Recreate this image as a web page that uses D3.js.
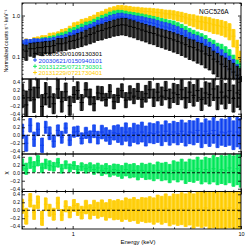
<!DOCTYPE html>
<html><head><meta charset="utf-8">
<script src="https://cdn.jsdelivr.net/npm/d3@7"></script>
<style>body{margin:0;background:#fff}svg{display:block}text{font-family:"Liberation Sans",Arial,sans-serif}</style>
</head><body><svg id="c" width="249" height="249"></svg>
<script>
// ---------------- data ----------------
const energy = [0.50,0.53,0.56,0.59,0.62,0.66,0.69,0.73,0.77,0.82,0.86,0.91,0.96,1.02,1.07,1.13,1.20,1.27,1.34,1.41,1.49,1.58,1.66,1.76,1.86,1.96,2.07,2.19,2.31,2.44,2.58,2.72,2.87,3.03,3.20,3.38,3.57,3.77,3.98,4.21,4.44,4.69,4.95,5.23,5.52,5.83,6.16,6.50,6.87,7.25,7.66,8.09,8.54,9.02,9.52,9.90];

const seriesNames = ["20020530/0109130301","20030621/0150940101","20131225/0721730301","20131229/0721730401"];
const objectName = "NGC526A";

const blackRate = [0.15,0.14,0.16,0.16,0.17,0.17,0.18,0.18, 0.19,0.21,0.21,0.22,0.24,0.25,0.27,0.29, 0.32,0.35,0.38,0.42,0.44,0.48,0.51,0.55, 0.58,0.60,0.59,0.55,0.52,0.48,0.45,0.42, 0.39,0.37,0.34,0.32,0.30,0.28,0.26,0.24, 0.22,0.20,0.18,0.17,0.15,0.14,0.12,0.11, 0.09,0.078,0.068,0.06,0.052,0.044,0.037,0.032];
const blackErr = [0.36,0.40,0.34,0.38,0.33,0.36,0.32,0.34, 0.33,0.34,0.33,0.34,0.35,0.36,0.37,0.38, 0.39,0.40,0.40,0.40,0.41,0.41,0.42,0.42, 0.43,0.43,0.44,0.44,0.44,0.45,0.45,0.45, 0.46,0.46,0.47,0.47,0.48,0.48,0.49,0.49, 0.50,0.50,0.51,0.52,0.52,0.53,0.54,0.55, 0.56,0.57,0.58,0.59,0.60,0.62,0.64,0.66];
const blueRate = [0.21,0.22,0.22,0.23,0.23,0.23,0.24,0.24, 0.25,0.27,0.28,0.30,0.33,0.37,0.40,0.44, 0.48,0.52,0.57,0.64,0.70,0.76,0.82,0.87, 0.92,0.93,0.88,0.85,0.81,0.78,0.75,0.71, 0.68,0.65,0.60,0.56,0.53,0.50,0.46,0.42, 0.38,0.34,0.30,0.27,0.25,0.23,0.20,0.17, 0.15,0.13,0.11,0.09,0.076,0.062,0.046,0.035];
const blueErr = [0.22,0.22,0.21,0.21,0.20,0.20,0.20,0.19, 0.19,0.19,0.18,0.18,0.18,0.18,0.18,0.18, 0.19,0.19,0.20,0.20,0.21,0.21,0.22,0.22, 0.23,0.23,0.24,0.24,0.24,0.25,0.25,0.25, 0.25,0.26,0.26,0.26,0.27,0.27,0.27,0.28, 0.28,0.29,0.29,0.30,0.31,0.32,0.33,0.34, 0.35,0.36,0.37,0.38,0.40,0.42,0.44,0.46];
const greenRate = [0.19,0.20,0.20,0.22,0.22,0.24,0.24,0.26, 0.27,0.30,0.32,0.34,0.40,0.43,0.48,0.52, 0.58,0.61,0.68,0.75,0.83,0.90,0.99,1.06, 1.10,1.09,1.04,0.99,0.96,0.92,0.88,0.84, 0.80,0.76,0.72,0.68,0.64,0.61,0.58,0.53, 0.48,0.43,0.38,0.34,0.31,0.28,0.25,0.21, 0.19,0.16,0.15,0.13,0.11,0.08,0.06,0.05];
const greenErr = [0.24,0.24,0.23,0.23,0.22,0.22,0.22,0.21, 0.21,0.21,0.20,0.20,0.20,0.20,0.20,0.20, 0.20,0.20,0.20,0.21,0.21,0.21,0.22,0.22, 0.22,0.22,0.23,0.23,0.23,0.24,0.24,0.24, 0.24,0.25,0.25,0.25,0.26,0.26,0.27,0.27, 0.28,0.28,0.29,0.30,0.30,0.31,0.32,0.33, 0.34,0.35,0.36,0.37,0.38,0.40,0.42,0.45];
const yellowRate = [0.20,0.22,0.21,0.24,0.25,0.27,0.27,0.31, 0.32,0.34,0.39,0.41,0.47,0.57,0.60,0.69, 0.73,0.81,0.88,1.01,1.08,1.20,1.30,1.37, 1.45,1.46,1.42,1.38,1.33,1.31,1.27,1.25, 1.24,1.20,1.18,1.15,1.10,1.09,1.05,0.99, 0.95,0.88,0.82,0.79,0.73,0.71,0.68,0.65, 0.60,0.58,0.55,0.51,0.45,0.32,0.17,0.09];
const yellowErr = [0.25,0.25,0.24,0.24,0.23,0.22,0.22,0.21, 0.20,0.20,0.19,0.19,0.18,0.18,0.17,0.17, 0.17,0.17,0.17,0.17,0.17,0.18,0.18,0.19, 0.20,0.20,0.20,0.20,0.20,0.21,0.21,0.21, 0.21,0.22,0.22,0.22,0.23,0.23,0.24,0.25, 0.26,0.28,0.30,0.32,0.34,0.35,0.36,0.37, 0.38,0.38,0.39,0.40,0.42,0.45,0.50,0.55];

const blackRes = [0.05,-0.18,0.20,-0.05,0.25,-0.22,0.10,0.02, -0.15,0.22,-0.10,0.15,-0.20,0.08,0.18,-0.12, 0.20,0.02,-0.15,0.12,0.10,-0.05,0.16,-0.10, 0.06,0.18,-0.06,0.12,0.04,0.16,-0.04,0.10, 0.20,0.00,0.14,0.04,0.18,-0.02,0.12,0.08, 0.20,0.00,0.14,0.06,0.18,-0.04,0.12,0.08, 0.22,0.00,0.14,0.04,0.18,-0.02,0.12,0.08];
const blackResErr = [0.30,0.35,0.28,0.32,0.25,0.30,0.28,0.26, 0.25,0.24,0.26,0.22,0.24,0.20,0.22,0.20, 0.18,0.20,0.18,0.17,0.18,0.16,0.17,0.18, 0.18,0.17,0.19,0.18,0.19,0.20,0.20,0.21, 0.21,0.22,0.22,0.23,0.23,0.24,0.24,0.25, 0.25,0.26,0.26,0.27,0.27,0.28,0.28,0.29, 0.29,0.30,0.30,0.32,0.32,0.34,0.36,0.38];
const blueRes = [0.10,-0.20,0.25,-0.10,0.15,-0.25,0.20,0.05, -0.15,0.12,-0.05,0.18,-0.12,0.08,0.10,-0.08, 0.06,-0.04,0.10,-0.06,0.08,0.02,-0.05,0.06, 0.04,-0.02,0.08,-0.04,0.06,0.02,0.08,-0.02, 0.06,0.04,0.08,0.00,0.10,0.02,0.08,0.04, 0.10,0.02,0.08,0.06,0.12,0.00,0.10,0.04, 0.12,0.02,0.08,0.06,0.10,0.00,0.08,0.04];
const blueResErr = [0.18,0.20,0.17,0.18,0.16,0.18,0.15,0.16, 0.15,0.14,0.15,0.13,0.14,0.13,0.13,0.14, 0.14,0.15,0.16,0.16,0.17,0.17,0.18,0.18, 0.22,0.22,0.23,0.23,0.24,0.24,0.25,0.25, 0.25,0.25,0.26,0.26,0.26,0.27,0.27,0.28, 0.28,0.29,0.29,0.30,0.30,0.31,0.31,0.32, 0.32,0.33,0.33,0.34,0.35,0.36,0.37,0.38];
const greenRes = [0.20,0.10,0.25,0.15,0.30,0.12,0.22,0.18, 0.15,0.25,0.10,0.20,0.12,0.18,0.08,0.15, 0.10,0.14,0.08,0.12,0.06,0.10,0.04,0.08, 0.06,0.02,0.08,0.04,0.06,0.00,0.06,0.02, 0.04,0.00,0.06,0.02,0.04,-0.02,0.06,0.02, 0.08,0.00,0.06,0.04,0.10,0.02,0.08,0.04, 0.10,0.04,0.08,0.06,0.12,0.04,0.10,0.06];
const greenResErr = [0.15,0.14,0.14,0.13,0.13,0.12,0.12,0.12, 0.11,0.11,0.11,0.10,0.10,0.10,0.10,0.10, 0.11,0.11,0.12,0.12,0.13,0.13,0.14,0.14, 0.15,0.16,0.16,0.17,0.17,0.18,0.18,0.19, 0.20,0.20,0.21,0.22,0.22,0.23,0.24,0.25, 0.26,0.27,0.28,0.28,0.29,0.30,0.31,0.32, 0.33,0.34,0.35,0.36,0.37,0.38,0.40,0.42];
const yellowRes = [0.10,-0.15,0.25,-0.05,0.20,-0.20,0.15,0.00, -0.10,0.18,-0.12,0.10,-0.05,0.12,0.02,-0.06, 0.08,-0.04,0.06,0.00,0.05,-0.03,0.04,0.00, 0.02,-0.02,0.04,0.00,0.03,-0.03,0.02,0.00, 0.02,-0.02,0.04,0.00,0.05,-0.02,0.03,0.01, 0.04,0.00,0.05,-0.02,0.04,0.02,0.06,-0.02, 0.04,0.00,0.05,0.02,0.06,-0.02,0.04,0.00];
const yellowResErr = [0.18,0.20,0.17,0.18,0.16,0.18,0.16,0.15, 0.15,0.15,0.14,0.14,0.14,0.15,0.15,0.16, 0.17,0.18,0.19,0.20,0.21,0.22,0.23,0.24, 0.25,0.26,0.27,0.28,0.29,0.30,0.30,0.31, 0.32,0.33,0.34,0.35,0.36,0.37,0.38,0.39, 0.40,0.41,0.42,0.43,0.44,0.45,0.46,0.47, 0.48,0.49,0.50,0.50,0.50,0.50,0.50,0.50];

const xMajorTicks = [1, 10];
const xTickLabels = ["1", "10"];
const xMinorTicks = [0.5,0.6,0.7,0.8,0.9,2,3,4,5,6,7,8,9];
const yMainMajor = [0.1, 1];
const yMainLabels = ["0.1", "1.0"];
const yMainMinor = [0.03,0.04,0.05,0.06,0.07,0.08,0.09,0.2,0.3,0.4,0.5,0.6,0.7,0.8,0.9,2];
const resTicks = [-0.4,-0.2,0,0.2,0.4];
const resTickLabels = ["\u22120.4","\u22120.2","0.0","0.2","0.4"];
const xTitle = "Energy (keV)";
const yMainTitle = "Normalized counts s\u207B\u00B9 keV\u207B\u00B9";
const yResTitle = "\u03C7";

// ---------------- layout ----------------
const L = 22, R = 241;
const mainTop = 3, mainBot = 79;
const resEdges = [79, 116.5, 154, 191.5, 229];

const series = [
  {name: seriesNames[0], dark: "#000000", light: "#3c3c3c", rate: blackRate, err: blackErr, res: blackRes, resErr: blackResErr},
  {name: seriesNames[1], dark: "#0f3ff0", light: "#2f5ef2", rate: blueRate, err: blueErr, res: blueRes, resErr: blueResErr},
  {name: seriesNames[2], dark: "#00e656", light: "#22ec70", rate: greenRate, err: greenErr, res: greenRes, resErr: greenResErr},
  {name: seriesNames[3], dark: "#ffcc00", light: "#ffd21a", rate: yellowRate, err: yellowErr, res: yellowRes, resErr: yellowResErr}
];

const svg = d3.select("#c");
const x = d3.scaleLog().domain([0.5, 10]).range([L, R]);
const yMain = d3.scaleLog().domain([0.03, 2]).range([mainBot, mainTop]);

const edgeLo = energy.map((e, i) => i > 0 ? Math.sqrt(energy[i-1]*e) : e / Math.sqrt(energy[1]/e));
const edgeHi = energy.map((e, i) => i < energy.length-1 ? Math.sqrt(energy[i+1]*e) : e * Math.sqrt(e/energy[i-1]));

const defs = svg.append("defs");
function clip(id, y0, y1) {
  defs.append("clipPath").attr("id", id).append("rect")
    .attr("x", L).attr("y", y0).attr("width", R - L).attr("height", y1 - y0);
  return "url(#" + id + ")";
}

function drawSeries(g, s, yS, vals, errs, mode) {
  const pts = energy.map((e, i) => {
    const v = vals[i], er = errs[i];
    let lo, hi;
    if (mode === "rel") { lo = Math.max(v * (1 - er), 0.031); hi = v * (1 + er); }
    else { lo = v - er; hi = v + er; }
    return {e, i, v, lo, hi};
  });
  const grp = g.append("g");
  grp.selectAll("rect").data(pts).join("rect")
    .attr("x", d => x(edgeLo[d.i])).attr("width", d => x(edgeHi[d.i]) - x(edgeLo[d.i]))
    .attr("y", d => yS(d.hi)).attr("height", d => yS(d.lo) - yS(d.hi))
    .attr("fill", s.light);
  grp.selectAll("line.v").data(pts).join("line").attr("class", "v")
    .attr("x1", d => x(d.e)).attr("x2", d => x(d.e))
    .attr("y1", d => yS(d.hi)).attr("y2", d => yS(d.lo))
    .attr("stroke", s.dark).attr("stroke-width", 1);
  grp.selectAll("line.h").data(pts).join("line").attr("class", "h")
    .attr("x1", d => x(edgeLo[d.i])).attr("x2", d => x(edgeHi[d.i]))
    .attr("y1", d => yS(d.v)).attr("y2", d => yS(d.v))
    .attr("stroke", s.dark).attr("stroke-width", 1);
  ["hi", "lo"].forEach(k => {
    grp.selectAll("line.c" + k).data(pts).join("line").attr("class", "c" + k)
      .attr("x1", d => x(d.e) - 1.5).attr("x2", d => x(d.e) + 1.5)
      .attr("y1", d => yS(d[k])).attr("y2", d => yS(d[k]))
      .attr("stroke", s.dark).attr("stroke-width", 0.8);
  });
}

function styleAxis(g) {
  g.select(".domain").remove();
  g.selectAll("line").attr("stroke", "#000").attr("stroke-width", 0.8);
  g.selectAll("text").attr("font-size", 5.5).attr("font-family", "Liberation Sans, Arial, sans-serif").attr("fill", "#000");
}

function xTicks(y0, y1, labels) {
  const gb = svg.append("g").attr("transform", `translate(0,${y1})`)
    .call(d3.axisBottom(x).tickValues(xMajorTicks).tickSizeInner(-3).tickSizeOuter(0)
      .tickPadding(labels ? 3 : 0).tickFormat((d, i) => labels ? xTickLabels[i] : ""));
  styleAxis(gb);
  const gbm = svg.append("g").attr("transform", `translate(0,${y1})`)
    .call(d3.axisBottom(x).tickValues(xMinorTicks).tickSizeInner(-1.6).tickSizeOuter(0).tickFormat(""));
  styleAxis(gbm);
  const gt = svg.append("g").attr("transform", `translate(0,${y0})`)
    .call(d3.axisTop(x).tickValues(xMajorTicks).tickSizeInner(-3).tickSizeOuter(0).tickFormat(""));
  styleAxis(gt);
  const gtm = svg.append("g").attr("transform", `translate(0,${y0})`)
    .call(d3.axisTop(x).tickValues(xMinorTicks).tickSizeInner(-1.6).tickSizeOuter(0).tickFormat(""));
  styleAxis(gtm);
}

// ---- main panel ----
const mainG = svg.append("g").attr("clip-path", clip("cm", mainTop, mainBot));
[3, 2, 1, 0].forEach(k => drawSeries(mainG, series[k], yMain, series[k].rate, series[k].err, "rel"));

// legend
const legRows = svg.append("g");
series.forEach((s, k) => {
  const yy = [53.5, 60, 66.3, 72.5][k];
  legRows.append("line").attr("x1", 33).attr("x2", 37).attr("y1", yy).attr("y2", yy).attr("stroke", s.dark).attr("stroke-width", 0.9);
  legRows.append("line").attr("x1", 35).attr("x2", 35).attr("y1", yy - 2).attr("y2", yy + 2).attr("stroke", s.dark).attr("stroke-width", 0.9);
  legRows.append("text").attr("x", 38.5).attr("y", yy).attr("dominant-baseline", "central")
    .attr("font-size", 6.2).attr("fill", s.dark).text(s.name);
});

svg.append("text").attr("x", 199).attr("y", 11.5).attr("dominant-baseline", "central")
  .attr("font-size", 6.5).attr("fill", "#000").text(objectName);

const gl = svg.append("g").attr("transform", `translate(${L},0)`)
  .call(d3.axisLeft(yMain).tickValues(yMainMajor).tickSizeInner(-3).tickSizeOuter(0).tickPadding(2)
    .tickFormat((d, i) => yMainLabels[i]));
styleAxis(gl);
const glm = svg.append("g").attr("transform", `translate(${L},0)`)
  .call(d3.axisLeft(yMain).tickValues(yMainMinor).tickSizeInner(-1.6).tickSizeOuter(0).tickFormat(""));
styleAxis(glm);
const gr = svg.append("g").attr("transform", `translate(${R},0)`)
  .call(d3.axisRight(yMain).tickValues(yMainMajor).tickSizeInner(-3).tickSizeOuter(0).tickFormat(""));
styleAxis(gr);
const grm = svg.append("g").attr("transform", `translate(${R},0)`)
  .call(d3.axisRight(yMain).tickValues(yMainMinor).tickSizeInner(-1.6).tickSizeOuter(0).tickFormat(""));
styleAxis(grm);
xTicks(mainTop, mainBot, false);
svg.append("rect").attr("x", L).attr("y", mainTop).attr("width", R - L).attr("height", mainBot - mainTop)
  .attr("fill", "none").attr("stroke", "#000").attr("stroke-width", 0.9);

// ---- residual panels ----
series.forEach((s, k) => {
  const y0 = resEdges[k], y1 = resEdges[k + 1];
  const yR = d3.scaleLinear().domain([-0.47, 0.47]).range([y1, y0]);
  const g = svg.append("g").attr("clip-path", clip("cr" + k, y0, y1));
  drawSeries(g, s, yR, s.res, s.resErr, "abs");
  g.append("line").attr("x1", L).attr("x2", R).attr("y1", yR(0)).attr("y2", yR(0))
    .attr("stroke", "#000").attr("stroke-width", 0.9).attr("stroke-dasharray", "3,2");
  const al = svg.append("g").attr("transform", `translate(${L},0)`)
    .call(d3.axisLeft(yR).tickValues(resTicks).tickSizeInner(-3).tickSizeOuter(0).tickPadding(2)
      .tickFormat((d, i) => resTickLabels[i]));
  styleAxis(al);
  al.selectAll("text").attr("font-size", 5);
  const ar = svg.append("g").attr("transform", `translate(${R},0)`)
    .call(d3.axisRight(yR).tickValues(resTicks).tickSizeInner(-3).tickSizeOuter(0).tickFormat(""));
  styleAxis(ar);
  xTicks(y0, y1, k === 3);
  svg.append("rect").attr("x", L).attr("y", y0).attr("width", R - L).attr("height", y1 - y0)
    .attr("fill", "none").attr("stroke", "#000").attr("stroke-width", 0.9);
});

// titles
svg.append("text").attr("x", 138).attr("y", 242).attr("text-anchor", "middle").attr("dominant-baseline", "central")
  .attr("font-size", 6).attr("fill", "#000").text(xTitle);
svg.append("text").attr("transform", "translate(6,41) rotate(-90)").attr("text-anchor", "middle")
  .attr("dominant-baseline", "central").attr("font-size", 5).attr("fill", "#000").text(yMainTitle);
svg.append("text").attr("transform", "translate(6,173) rotate(-90)").attr("text-anchor", "middle")
  .attr("dominant-baseline", "central").attr("font-size", 6).attr("fill", "#000").text(yResTitle);
</script>
</body></html>
